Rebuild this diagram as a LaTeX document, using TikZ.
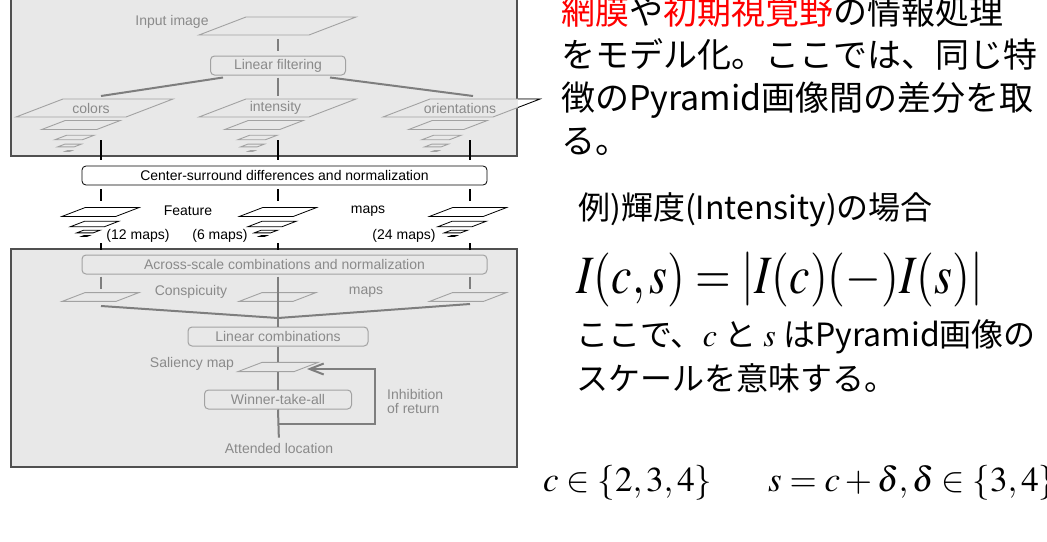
\documentclass[tikz,border=0pt]{standalone}
\usepackage{mathptmx}
\usepackage[no-math]{fontspec}
\setsansfont{Liberation Sans}
\newfontfamily\jpfont{Noto Sans CJK JP}
\usepackage{xcolor}
\usepackage{graphicx}
\usetikzlibrary{arrows.meta}

\definecolor{panelgray}{HTML}{E8E8E8}
\definecolor{panelrim}{HTML}{505050}
\definecolor{dimtext}{HTML}{8A8A8A}
\definecolor{dimline}{HTML}{A2A2A2}
\definecolor{dimedge}{HTML}{7E7E7E}
\definecolor{slidered}{HTML}{FF0000}

\begin{document}
\begin{tikzpicture}[
    x=1pt, y=-1pt,
    font=\fontsize{14}{14}\sffamily,
    >=Stealth,
    panel/.style={draw=panelrim, line width=1.5pt, fill=panelgray},
    dimbox/.style={rectangle, draw=dimline, line width=1pt, fill=panelgray, rounded corners=4pt, text=dimtext, inner sep=0pt, minimum height=19pt},
    stagebox/.style={rectangle, draw=black, line width=0.8pt, fill=white, rounded corners=4pt, inner sep=0pt, minimum width=405pt, minimum height=19pt},
    dimlabel/.style={text=dimtext, inner sep=0pt},
    maplabel/.style={text=black, inner sep=0pt},
    dim_edge/.style={draw=dimedge, line width=2pt},
    link/.style={draw=black, line width=1.8pt},
    jpline/.style={anchor=base west, inner sep=0pt, font=\fontsize{34}{43}\jpfont},
    jpsmall/.style={anchor=base west, inner sep=0pt, font=\fontsize{32}{44}\jpfont},
    eqline/.style={anchor=base west, inner sep=0pt},
    plane/.pic={\filldraw[draw=dimline, fill=panelgray, line width=0.9pt] (-78.5,9) -- (31.5,9) -- (78.5,-9) -- (-31.5,-9) -- cycle;},
    wplane/.pic={\filldraw[draw=black, fill=white, line width=0.8pt] (-78.5,9) -- (31.5,9) -- (78.5,-9) -- (-31.5,-9) -- cycle;},
]
    \useasboundingbox (0,0) rectangle (1047,541);
    \clip (0,0) rectangle (1047,541);

    % ===== TOP PANEL: input and linear filtering =====
    \draw[panel] (11,-10) rectangle (517,156);

    \pic at (277.5,26) {plane};
    \node[dimlabel] (inputlbl) at (172,22) {Input image};
    \coordinate (inBot) at (278,39);
    \node[dimbox, minimum width=135pt] (lf) at (278,65.5) {Linear filtering};
    \draw[dim_edge, shorten >=5pt] (inBot) -- (lf.north);

    \coordinate (cTop) at (101,96);
    \coordinate (iTop) at (278,96);
    \coordinate (oTop) at (473,96);
    \draw[dim_edge] ([xshift=13pt, yshift=-2pt]lf.south west) -- (cTop);
    \draw[dim_edge] ([yshift=-2pt]lf.south) -- (iTop);
    \draw[dim_edge] ([xshift=-16pt, yshift=-2pt]lf.south east) -- (oTop);

    % colors pyramid
    \pic at (94.5,108) {plane};
    \pic[scale=0.5] at (81,125) {plane};
    \pic[scale=0.25] at (74.5,137.5) {plane};
    \pic[scale=0.15] at (69.5,145.5) {plane};
    \pic[scale=0.04] at (68.5,151) {plane};
    \node[dimlabel] (colorslbl) at (91,108) {colors};

    % intensity pyramid
    \pic at (277.5,108) {plane};
    \pic[scale=0.5] at (264,125) {plane};
    \pic[scale=0.25] at (257.5,137.5) {plane};
    \pic[scale=0.15] at (252.5,145.5) {plane};
    \pic[scale=0.04] at (251.5,151) {plane};
    \node[dimlabel] (intenslbl) at (275.5,108) {intensity};

    % orientations pyramid
    \pic at (461.5,108) {plane};
    \pic[scale=0.5] at (448,125) {plane};
    \pic[scale=0.25] at (441.5,137.5) {plane};
    \pic[scale=0.15] at (436.5,145.5) {plane};
    \pic[scale=0.04] at (435.5,151) {plane};
    \node[dimlabel] (orientlbl) at (460,108) {orientations};

    % corner of the orientations plane outside the panel
    \begin{scope}
        \clip (518,80) rectangle (560,125);
        \pic at (461.5,108) {wplane};
    \end{scope}

    % ===== MIDDLE: center-surround and feature maps =====
    \coordinate (cPyr) at (101,140);
    \coordinate (iPyr) at (278,140);
    \coordinate (oPyr) at (470,140);
    \node[stagebox] (csd) at (284.5,175.5) {Center-surround differences and normalization};
    \draw[link, shorten >=6pt] (cPyr) -- (cPyr |- csd.north);
    \draw[link, shorten >=6pt] (iPyr) -- (iPyr |- csd.north);
    \draw[link, shorten >=6pt] (oPyr) -- (oPyr |- csd.north);

    \coordinate (cFeat) at (101,201);
    \coordinate (iFeat) at (278,201);
    \coordinate (oFeat) at (470,201);
    \draw[link, shorten <=4pt] (cFeat |- csd.south) -- (cFeat);
    \draw[link, shorten <=4pt] (iFeat |- csd.south) -- (iFeat);
    \draw[link, shorten <=4pt] (oFeat |- csd.south) -- (oFeat);

    \pic[scale=0.49] at (100.5,212) {wplane};
    \pic[scale=0.31] at (94.5,224) {wplane};
    \pic[scale=0.15] at (88.5,231.5) {wplane};
    \pic[scale=0.05] at (85.5,236) {wplane};

    \pic[scale=0.49] at (278,212) {wplane};
    \pic[scale=0.31] at (272,224) {wplane};
    \pic[scale=0.15] at (266,231.5) {wplane};
    \pic[scale=0.05] at (263,236) {wplane};

    \pic[scale=0.49] at (468,212) {wplane};
    \pic[scale=0.31] at (462,224) {wplane};
    \pic[scale=0.15] at (456,231.5) {wplane};
    \pic[scale=0.05] at (453,236) {wplane};

    \node[maplabel] (featlbl) at (188,211) {Feature};
    \node[maplabel] (fmapslbl) at (368,211) {maps};
    \node[maplabel] (n12) at (138,236) {(12 maps)};
    \node[maplabel] (n6) at (220,236) {(6 maps)};
    \node[maplabel] (n24) at (404,236) {(24 maps)};

    % ===== BOTTOM PANEL: conspicuity, saliency, attention =====
    \draw[panel] (11,249) rectangle (517,467);
    \node[dimbox, minimum width=405pt] (asc) at (284.5,264.5) {Across-scale combinations and normalization};

    \coordinate (cFeatB) at (101,243);
    \coordinate (iFeatB) at (278,243);
    \coordinate (oFeatB) at (470,243);
    \draw[link, shorten >=5pt] (cFeatB) -- (cFeatB |- asc.north);
    \draw[link, shorten >=5pt] (iFeatB) -- (iFeatB |- asc.north);
    \draw[link, shorten >=5pt] (oFeatB) -- (oFeatB |- asc.north);

    \pic[scale=0.49] at (100.5,297) {plane};
    \pic[scale=0.49] at (277.5,297) {plane};
    \pic[scale=0.49] at (468,297) {plane};
    \node[dimlabel] (consplbl) at (191,292) {Conspicuity};
    \node[dimlabel] (cmapslbl) at (366,292) {maps};

    \node[dimbox, minimum width=180pt] (lc) at (278,336.5) {Linear combinations};

    \coordinate (cCon) at (101,289);
    \coordinate (oCon) at (470,289);
    \coordinate (cMerge) at (101,306);
    \coordinate (oMerge) at (470,304);
    \coordinate (merge) at (278,318);
    \draw[dim_edge, shorten <=2pt] (cCon |- asc.south) -- (cCon);
    \draw[dim_edge, shorten <=2pt] (oCon |- asc.south) -- (oCon);
    \draw[dim_edge, shorten <=2pt] (merge |- asc.south) -- (merge) -- (lc.north);
    \draw[dim_edge] (cMerge) -- (merge) -- (oMerge);

    \pic[scale=0.51] at (278,367) {plane};
    \node[dimlabel] (sallbl) at (192,364) {Saliency map};
    \coordinate (salTop) at (278,362);
    \coordinate (salBot) at (278,372);

    \node[dimbox, minimum width=147pt] (wta) at (278,399.5) {Winner-take-all};
    \node[dimlabel] (attn) at (279,448) {Attended location};
    \node[dimlabel, anchor=west, align=left] (ior) at (387,401) {Inhibition\\of return};

    \draw[dim_edge] (lc.south) -- (salTop);
    \draw[dim_edge] (salBot) -- (wta.north);
    \draw[dim_edge, shorten >=5pt] (wta.south) -- (attn.north);

    \coordinate (iorStart) at (278,424);
    \coordinate (iorTip) at (307,369);
    \draw[dim_edge, -{Straight Barb[length=14pt, width=11pt]}] (iorStart) -- ++(97,0) |- (iorTip);

    % ===== RIGHT: explanation =====
    \node[jpline] (jp1) at (561,24) {{\color{slidered}網膜}や{\color{slidered}初期視覚野}の情報処理};
    \node[jpline] (jp2) at (561,67) {をモデル化。ここでは、同じ特};
    \node[jpline] (jp3) at (561,110) {徴のPyramid画像間の差分を取};
    \node[jpline] (jp4) at (561,153) {る。};

    \node[jpsmall] (example) at (578,219) {例)輝度(Intensity)の場合};
    \node[eqline, font=\fontsize{54}{60}\selectfont] (diffeq) at (576,293) {\scalebox{0.85}[1]{$I(c,s)=\left|I(c)(-)I(s)\right|$}};

    \node[jpsmall] (note1) at (576,346) {ここで、$c$ と $s$ はPyramid画像の};
    \node[jpsmall] (note2) at (576,390) {スケールを意味する。};

    \node[eqline, font=\fontsize{35}{40}\selectfont] (cset) at (543,491) {$c\in\{2,3,4\}$};
    \node[eqline, font=\fontsize{35}{40}\selectfont] (sset) at (768,491) {$s=c+\delta,\delta\in\{3,4\}$};

\end{tikzpicture}
\end{document}
